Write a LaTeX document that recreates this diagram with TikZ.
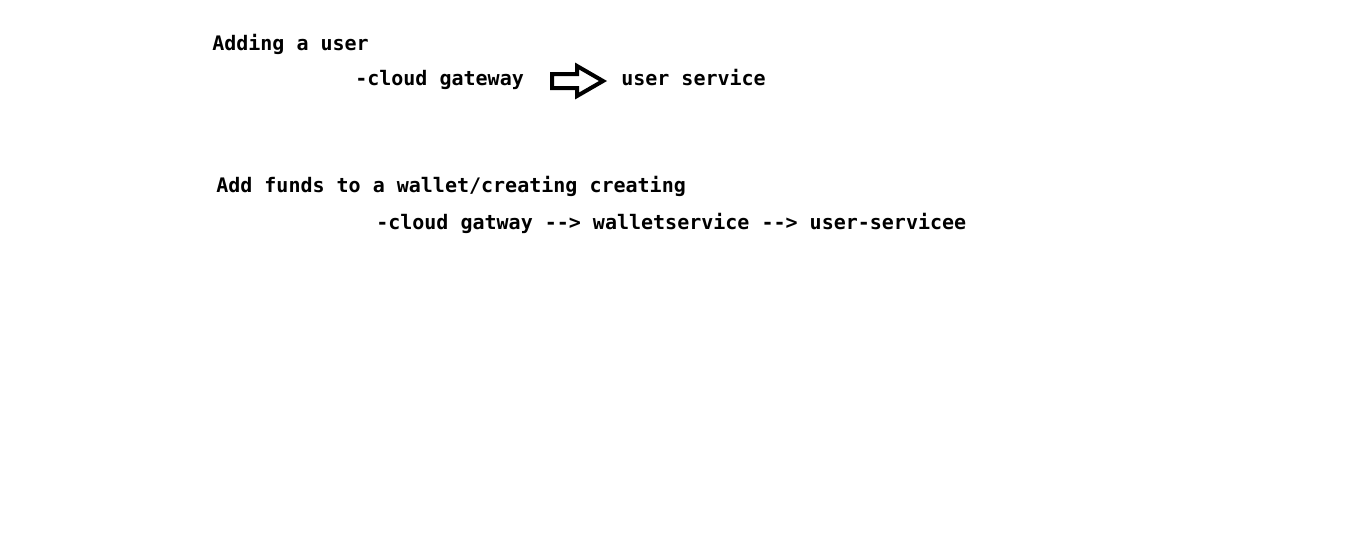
\documentclass[tikz,border=0pt]{standalone}
\usepackage{fontspec}
\setmonofont{DejaVu Sans Mono}
\usetikzlibrary{shapes.arrows}
\tikzset{
  note/.style={anchor=base west,inner sep=0pt,font=\ttfamily\bfseries\fontsize{15}{18}\selectfont},
  blockarrow/.style={single arrow,draw,line width=3pt,inner xsep=0pt,inner ysep=3.75pt,
    minimum height=38.25pt,single arrow head extend=6pt,single arrow tip angle=60}
}
\begin{document}
\begin{tikzpicture}[x=0.75pt,y=-0.75pt]
\useasboundingbox[fill=white] (0,0) rectangle (1349,544);
% Adding a user
\node[note] (adduser) at (212,50) {Adding a user};
\node[note] (gw) at (355,85) {-cloud gateway};
\node[blockarrow,anchor=tail] (arr) at (550,81) {};
\node[note] (usr) at (621,85) {user service};

% Add funds
\node[note] (addfunds) at (216,192) {Add funds to a wallet/creating creating};
\node[note] (chain) at (376,229) {-cloud gatway --> walletservice --> user-servicee};
\end{tikzpicture}
\end{document}
